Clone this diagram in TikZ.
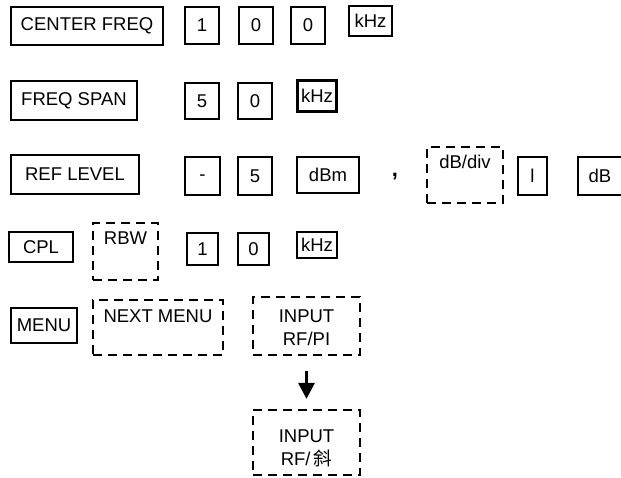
\documentclass[tikz,border=0pt]{standalone}
\usepackage{fontspec}
\setmainfont{Liberation Sans}
\newfontfamily\cjk{Noto Sans CJK SC}
\usetikzlibrary{positioning, arrows.meta}
\tikzset{
	keybox/.style={
			draw=black,
			line width=2.2pt,
			inner sep=0pt,
			font=\fontsize{18.5pt}{23pt}\selectfont
		},
	softkey/.style={
			keybox,
			dash pattern=on 9pt off 6pt
		},
	keytext/.style={
			inner sep=0pt,
			align=center,
			font=\fontsize{18.5pt}{23pt}\selectfont
		},
	keyarrow/.style={
			line width=3pt,
			-{Triangle[width=16pt,length=16pt]}
		}
}

\begin{document}
\begin{tikzpicture}[x=1pt, y=-1pt]
\useasboundingbox (0,0) rectangle (621,477);

% row 1
\node[keybox, minimum width=152pt, minimum height=38pt] (cf) at (87,26) {CENTER FREQ};
\node[keybox, minimum width=34pt, minimum height=37pt] (cfA) at (202,25.5) {1};
\node[keybox, minimum width=34pt, minimum height=37pt] (cfB) at (256,25.5) {0};
\node[keybox, minimum width=34pt, minimum height=37pt] (cfC) at (308,25.5) {0};
\node[keybox, minimum width=43pt, minimum height=30pt] (cfU) at (370.5,21) {kHz};

% row 2
\node[keybox, minimum width=126pt, minimum height=39pt] (fs) at (74,100.5) {FREQ SPAN};
\node[keybox, minimum width=34pt, minimum height=36pt] (fsA) at (202,101) {5};
\node[keybox, minimum width=34pt, minimum height=36pt] (fsB) at (255,101) {0};
\node[keybox, minimum width=39pt, minimum height=31pt] (fsU) at (317,96) {kHz};

% row 3
\node[keybox, minimum width=128pt, minimum height=39pt] (rl) at (75,174.5) {REF LEVEL};
\node[keybox, minimum width=35pt, minimum height=38pt] (rlA) at (202.5,176) {\raisebox{-4pt}[0pt][0pt]{-}};
\node[keybox, minimum width=34pt, minimum height=38pt] (rlB) at (255,176) {5};
\node[keybox, minimum width=62pt, minimum height=36pt] (rlU) at (328,175) {dBm};
\node[keytext, anchor=base, font=\fontsize{22pt}{24pt}\bfseries] (comma) at (395,176) {,};
\node[softkey, minimum width=76pt, minimum height=56pt] (div) at (465,175) {};
\node[keytext, below=9pt of div.north] (divtext) {dB/div};
\node[keybox, minimum width=29pt, minimum height=38pt] (divA) at (532.5,176) {l};
\node[keybox, minimum width=64pt, minimum height=38pt] (divU) at (610,176) {dB\hspace*{20pt}};

% row 4
\node[keybox, minimum width=64pt, minimum height=30pt] (cpl) at (41,247) {CPL};
\node[softkey, minimum width=65pt, minimum height=57pt] (rbw) at (125.5,251.5) {};
\node[keytext, below=10pt of rbw.north] (rbwtext) {RBW};
\node[keybox, minimum width=31pt, minimum height=32pt] (rbwA) at (202.5,249) {1};
\node[keybox, minimum width=31pt, minimum height=32pt] (rbwB) at (253.5,249) {0};
\node[keybox, minimum width=40pt, minimum height=26pt] (rbwU) at (317,245) {kHz};

% row 5
\node[keybox, minimum width=66pt, minimum height=35pt] (menu) at (44,325.5) {MENU};
\node[softkey, minimum width=130pt, minimum height=55pt] (next) at (158,327.5) {};
\node[keytext, below=10.5pt of next.north] (nexttext) {NEXT MENU};
\node[softkey, minimum width=107pt, minimum height=58pt] (inp1) at (306.5,326) {};
\node[keytext, below=13.5pt of inp1.north] (inp1text) {INPUT\\RF/PI};
\node[softkey, minimum width=107pt, minimum height=65pt] (inp2) at (306.5,442.5) {};
\node[keytext, below=20.5pt of inp2.north] (inp2text) {INPUT\\RF/\,{\cjk 斜}};

\draw[keyarrow, shorten <=15pt, shorten >=10pt] (inp1) -- (inp2);

\end{tikzpicture}
\end{document}
